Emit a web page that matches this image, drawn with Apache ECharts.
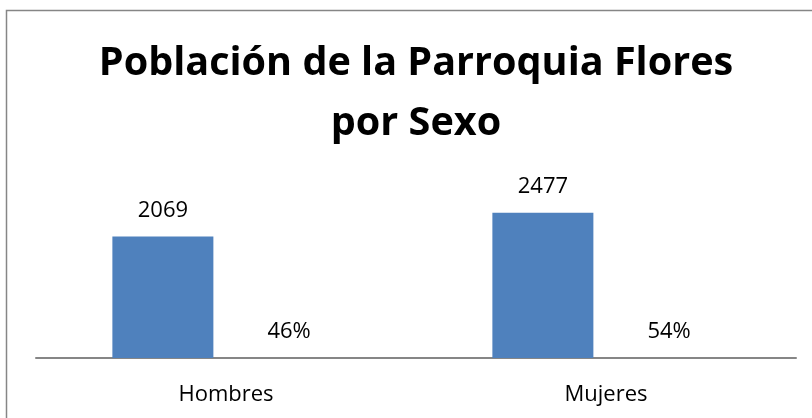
<!DOCTYPE html>
<html>
<head>
<meta charset="utf-8">
<script src="https://cdn.jsdelivr.net/npm/echarts@6/dist/echarts.min.js"></script>
<style>
  html, body { margin: 0; padding: 0; background: #fff; }
  #chart { width: 812px; height: 418px; }
</style>
</head>
<body>
<div id="chart"></div>
<script>
const categories = ['Hombres', 'Mujeres']
const poblacion = [2069, 2477]
const porcentaje = [0.46, 0.54]

const chart = echarts.init(document.getElementById('chart'))
const option = {
  backgroundColor: '#fff',
  animation: false,
  title: {
    text: 'Población de la Parroquia Flores\npor Sexo',
    left: 416,
    top: 34,
    textAlign: 'center',
    padding: 0,
    textStyle: {
      fontFamily: 'Open Sans',
      fontWeight: 'bold',
      fontSize: 39.6,
      lineHeight: 60,
      color: '#000'
    }
  },
  graphic: [
    {
      type: 'rect',
      shape: { x: 6.5, y: 10.5, width: 1000, height: 1000 },
      style: { fill: 'none', stroke: '#868686', lineWidth: 1.5 },
      silent: true
    }
  ],
  grid: { left: 36, right: 16, top: 182, bottom: 60 },
  xAxis: {
    type: 'category',
    data: categories,
    axisLine: { lineStyle: { color: '#868686', width: 2 } },
    axisTick: { show: false },
    axisLabel: {
      fontFamily: 'Open Sans',
      fontSize: 22,
      color: '#000',
      margin: 26
    }
  },
  yAxis: {
    type: 'value',
    min: 0,
    max: 3000,
    show: false
  },
  series: [
    {
      name: 'Población',
      type: 'bar',
      data: poblacion,
      barWidth: 101,
      barGap: '25%',
      itemStyle: { color: '#4F81BD' },
      label: {
        show: true,
        position: 'top',
        distance: 15,
        fontFamily: 'Open Sans',
        fontSize: 22,
        color: '#000'
      }
    },
    {
      name: 'Porcentaje',
      type: 'bar',
      data: porcentaje,
      barWidth: 101,
      itemStyle: { color: '#C0504D' },
      label: {
        show: true,
        position: 'top',
        distance: 15,
        fontFamily: 'Open Sans',
        fontSize: 22,
        color: '#000',
        formatter: function (p) { return Math.round(p.value * 100) + '%' }
      }
    }
  ]
}
chart.setOption(option)
window.addEventListener('resize', function () {
  chart.resize()
})
</script>
</body>
</html>
